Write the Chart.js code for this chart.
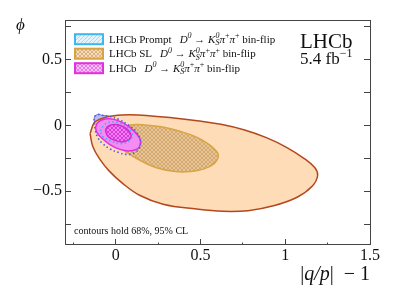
<!DOCTYPE html>
<html>
<head>
<meta charset="utf-8">
<script src="https://cdn.jsdelivr.net/npm/chart.js@4.4.1/dist/chart.umd.min.js"></script>
<style>
html,body{margin:0;padding:0;background:#fff}
#wrap{width:411px;height:295px}
</style>
</head>
<body>
<div id="wrap"><canvas id="c"></canvas></div>
<script>
// contour points, as [|q/p|-1, phi]
const slOuter = [[-0.152,-0.062],[-0.128,0.020],[-0.097,0.045],[-0.050,0.066],[0.010,0.078],[0.081,0.081],[0.180,0.076],[0.330,0.058],[0.480,0.035],[0.620,0.008],[0.760,-0.035],[0.892,-0.095],[1.010,-0.168],[1.110,-0.250],[1.175,-0.322],[1.191,-0.380],[1.160,-0.460],[1.070,-0.545],[0.930,-0.610],[0.780,-0.647],[0.630,-0.652],[0.477,-0.635],[0.279,-0.598],[0.140,-0.530],[0.040,-0.440],[-0.040,-0.345],[-0.098,-0.250],[-0.136,-0.160]];
const slInner = [[-0.005,-0.100],[0.030,-0.020],[0.100,0.005],[0.180,0.002],[0.290,-0.015],[0.378,-0.045],[0.470,-0.085],[0.536,-0.133],[0.590,-0.190],[0.605,-0.234],[0.580,-0.290],[0.520,-0.330],[0.440,-0.350],[0.350,-0.350],[0.239,-0.321],[0.150,-0.270],[0.060,-0.200],[0.010,-0.145]];
const combOuter = [[-0.120,-0.017],[-0.108,0.020],[-0.079,0.043],[-0.040,0.050],[0.005,0.040],[0.055,0.010],[0.105,-0.040],[0.140,-0.095],[0.146,-0.140],[0.125,-0.180],[0.075,-0.194],[0.020,-0.180],[-0.035,-0.146],[-0.082,-0.098],[-0.111,-0.055]];
const combInner = [[-0.062,-0.035],[-0.045,-0.005],[-0.010,0.006],[0.030,-0.002],[0.068,-0.030],[0.090,-0.075],[0.075,-0.110],[0.035,-0.125],[-0.010,-0.112],[-0.047,-0.082]];
const promptOuter = [[0.145,-0.105],[0.140,-0.170],[0.105,-0.210],[0.060,-0.220],[0.018,-0.206],[-0.031,-0.181],[-0.078,-0.138],[-0.106,-0.093],[-0.122,-0.030],[-0.126,0.025],[-0.126,0.064],[-0.106,0.083],[-0.079,0.076],[-0.041,0.070],[0.018,0.045],[0.068,0.008],[0.117,-0.042]];
const promptInner = [[-0.091,-0.042],[-0.073,-0.002],[-0.049,0.020],[0.008,0.024],[0.068,-0.017],[0.097,-0.068],[0.077,-0.118],[0.028,-0.138],[-0.031,-0.118],[-0.081,-0.080]];

const xTicks = [-0.25, 0, 0.25, 0.5, 0.75, 1, 1.25, 1.5];
const xLabels = ['', '0', '', '0.5', '', '1', '', '1.5'];
const yTicks = [-0.75, -0.5, -0.25, 0, 0.25, 0.5, 0.75];
const yLabels = ['', '\u22120.5', '', '0', '', '0.5', ''];
const legendNames = ['LHCb Prompt', 'LHCb SL', 'LHCb'];

const SERIF = '"Liberation Serif"';

function loop(pts){
  return pts.concat([pts[0]]).map(p => ({x: p[0], y: p[1]}));
}

function hatch(bg, fg, kind){
  const c = document.createElement('canvas');
  c.width = c.height = 4;
  const g = c.getContext('2d');
  g.fillStyle = bg; g.fillRect(0, 0, 4, 4);
  g.fillStyle = fg;
  for(let i = 0; i < 4; i++){
    if(kind === 'diag' || kind === 'cross') g.fillRect(3 - i, i, 1, 1);
    if(kind === 'cross') g.fillRect(i, i, 1, 1);
  }
  return g.createPattern(c, 'repeat');
}

const slPattern = hatch('#e8c697', '#d2a86e', 'cross');
const combPattern = hatch('#f47ef4', '#d83cd8', 'cross');
const legPrompt = hatch('#e2f3fc', '#a6d8f2', 'diag');
const legSL = hatch('#f6dcbc', '#dcb27e', 'cross');
const legComb = hatch('#f8c4f8', '#ea78ea', 'cross');

function contour(pts, o){
  return Object.assign({data: loop(pts), showLine: true, pointRadius: 0, pointHoverRadius: 0, tension: 0.4, fill: 'shape'}, o);
}

const datasets = [
  contour(promptInner, {borderColor: '#30b4f2', borderWidth: 1.6, borderDash: [1.5, 2.5], fill: false, order: 0}),
  contour(promptOuter, {borderColor: '#5a5ae8', borderWidth: 1.6, borderDash: [1.5, 2.5], fill: false, order: 1}),
  contour(combInner, {backgroundColor: combPattern, borderColor: '#d42ad4', borderWidth: 1.5, order: 2}),
  contour(combOuter, {backgroundColor: '#f38cf3', borderColor: '#e22ee2', borderWidth: 1.5, order: 3}),
  contour(slInner, {backgroundColor: slPattern, borderColor: '#d9a445', borderWidth: 1.5, order: 4}),
  contour(slOuter, {backgroundColor: '#fddcb7', borderColor: '#b4481d', borderWidth: 1.5, order: 5}),
  contour(promptOuter, {backgroundColor: '#b7bdf2', borderColor: '#6b6fe0', borderWidth: 1, order: 6})
];

function rich(ctx, x, y, parts, draw){
  for(const p of parts){
    ctx.font = p.f;
    if(draw !== false) ctx.fillText(p.t, x, y + (p.dy || 0));
    if(!p.stack) x += ctx.measureText(p.t).width;
  }
  return x;
}

const R11 = '11px ' + SERIF, I11 = 'italic 11px ' + SERIF;
const I8 = 'italic 8px ' + SERIF, R8 = '8px ' + SERIF;
const decay = [
  {t: 'D', f: I11}, {t: '0', f: I8, dy: -4.5}, {t: ' \u2192 ', f: R11},
  {t: 'K', f: I11}, {t: '0', f: I8, dy: -4.5, stack: true}, {t: 'S', f: I8, dy: 2.5},
  {t: '\u03c0', f: I11}, {t: '+', f: R8, dy: -4.5},
  {t: '\u03c0', f: I11}, {t: '+', f: R8, dy: -4.5},
  {t: ' bin-flip', f: R11}
];

const annotations = {
  id: 'annotations',
  afterDraw(chart){
    const ctx = chart.ctx;
    ctx.save();
    ctx.fillStyle = '#111';
    ctx.textBaseline = 'alphabetic';
    ctx.textAlign = 'left';

    // legend
    const boxes = [
      {fill: legPrompt, stroke: '#3fb6ef'},
      {fill: legSL, stroke: '#d6a244'},
      {fill: legComb, stroke: '#e030e0'}
    ];
    legendNames.forEach((name, i) => {
      const base = 42.7 + i * 14.5;
      ctx.fillStyle = boxes[i].fill;
      ctx.fillRect(75, base - 8.5, 28, 10);
      ctx.strokeStyle = boxes[i].stroke;
      ctx.lineWidth = 2;
      ctx.strokeRect(75, base - 8.5, 28, 10);
      ctx.fillStyle = '#111';
      const x = rich(ctx, 109, base, [{t: name, f: R11}]);
      rich(ctx, x + 8, base, decay);
    });

    // experiment label
    rich(ctx, 300, 47.5, [{t: 'LHCb', f: '21px ' + SERIF}]);
    rich(ctx, 300, 63.5, [{t: '5.4 fb', f: '17px ' + SERIF}, {t: '\u22121', f: '12px ' + SERIF, dy: -7}]);

    // note
    rich(ctx, 74, 234, [{t: 'contours hold 68%, 95% CL', f: '10px ' + SERIF}]);

    // axis titles
    rich(ctx, 16, 30, [{t: '\u03d5', f: 'italic 17px ' + SERIF}]);
    const R20 = '20px ' + SERIF, I20 = 'italic 20px ' + SERIF;
    const xt = [{t: '|', f: R20}, {t: 'q/p', f: I20}, {t: '|', f: R20}, {t: '  \u2212 1', f: R20}];
    const w = rich(ctx, 0, 0, xt, false);
    rich(ctx, 370 - w, 280, xt);
    ctx.restore();
  }
};

const axisColor = '#444';
const tickFont = {family: 'Liberation Serif', size: 16};

new Chart(document.getElementById('c'), {
  type: 'scatter',
  data: {datasets: datasets},
  options: {
    responsive: true,
    maintainAspectRatio: false,
    animation: false,
    devicePixelRatio: 1,
    layout: {padding: 0},
    plugins: {legend: {display: false}, tooltip: {enabled: false}},
    scales: {
      x: {
        type: 'linear', position: 'bottom', min: -0.3, max: 1.5,
        afterBuildTicks: s => { s.ticks = xTicks.map(v => ({value: v})); },
        afterFit: s => { s.height = 51; },
        border: {color: axisColor, width: 1},
        grid: {drawOnChartArea: false, tickLength: -5, tickColor: axisColor, tickWidth: 1,
          tickBorderDash: c => (xLabels[c.index] === '' ? [2.5, 40] : [])},
        ticks: {autoSkip: false, maxRotation: 0, padding: 7, font: tickFont, color: '#111',
          callback: (v, i) => xLabels[i]}
      },
      x2: {
        type: 'linear', position: 'top', min: -0.3, max: 1.5,
        afterFit: s => { s.height = 20; },
        border: {color: axisColor, width: 1},
        grid: {drawOnChartArea: false, drawTicks: false},
        ticks: {display: false}
      },
      y: {
        type: 'linear', position: 'left', min: -0.9, max: 0.8,
        afterBuildTicks: s => { s.ticks = yTicks.map(v => ({value: v})); },
        afterFit: s => { s.width = 65; },
        border: {color: axisColor, width: 1},
        grid: {drawOnChartArea: false, tickLength: -6, tickColor: axisColor, tickWidth: 1},
        ticks: {autoSkip: false, padding: 9, font: tickFont, color: '#111',
          callback: (v, i) => yLabels[i]}
      },
      y2: {
        type: 'linear', position: 'right', min: -0.9, max: 0.8,
        afterBuildTicks: s => { s.ticks = yTicks.map(v => ({value: v})); },
        afterFit: s => { s.width = 41; },
        border: {color: axisColor, width: 1},
        grid: {drawOnChartArea: false, tickLength: -6, tickColor: axisColor, tickWidth: 1},
        ticks: {display: false}
      }
    }
  },
  plugins: [annotations]
});
</script>
</body>
</html>
